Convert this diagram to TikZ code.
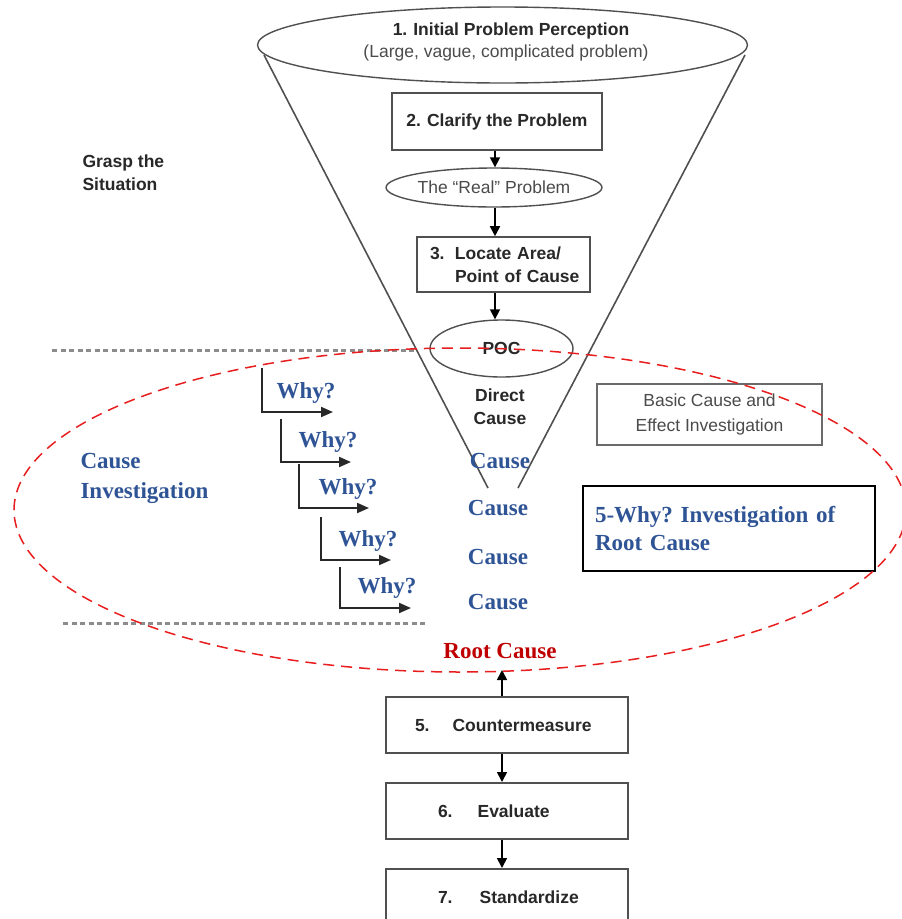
\documentclass[tikz,border=0pt]{standalone}
\usepackage{fontspec}
\setmainfont{Liberation Serif}
\newfontfamily\arialfont{Liberation Sans}
\usetikzlibrary{arrows.meta,shapes.geometric}
\definecolor{inkdark}{RGB}{40,40,40}
\definecolor{inkgray}{RGB}{75,75,75}
\definecolor{linegray}{RGB}{80,80,80}
\definecolor{dotgray}{RGB}{140,140,140}
\definecolor{whyblue}{RGB}{47,84,150}
\definecolor{rootred}{RGB}{192,0,0}
\definecolor{loopred}{RGB}{232,30,30}
\frenchspacing

\begin{document}
\begin{tikzpicture}[x=1pt,y=-1pt,
  sansb/.style={font=\arialfont\bfseries\fontsize{17.5}{23}\selectfont, text=inkdark},
  sansr/.style={font=\arialfont\fontsize{17.5}{23}\selectfont, text=inkgray},
  serifb/.style={font=\bfseries\fontsize{23}{30}\selectfont, text=whyblue},
  procbox/.style={draw=linegray, line width=1.6pt, rectangle, inner sep=0pt},
  ovalnode/.style={draw=linegray, line width=1.4pt, ellipse, inner sep=0pt},
  flow/.style={draw=black, line width=1.7pt, -{Triangle[length=10pt,width=10pt]}},
  stepline/.style={draw=inkdark, line width=2pt, -{Triangle[length=12pt,width=10pt]}},
  divider/.style={draw=dotgray, line width=3pt, dash pattern=on 5pt off 3.5pt},
]
\useasboundingbox (0,0) rectangle (902,919);
\clip (0,0) rectangle (902,919);
\fill[white] (0,0) rectangle (902,919);

% phase dividers
\coordinate (d1a) at (52,350);  \coordinate (d1b) at (417,350);
\coordinate (d2a) at (63,623);  \coordinate (d2b) at (425,623);
\draw[divider] (d1a) -- (d1b);
\draw[divider] (d2a) -- (d2b);

% funnel sides
\coordinate (fl1) at (264,55);  \coordinate (fl2) at (488,488);
\coordinate (fr1) at (745,55);  \coordinate (fr2) at (518,488);
\draw[linegray, line width=1.6pt] (fl1) -- (fl2);
\draw[linegray, line width=1.6pt] (fr1) -- (fr2);

% funnel mouth
\node[ovalnode, fill=white, minimum width=490pt, minimum height=76pt, align=center]
  (top) at (502.5,45) {};
\node[sansb] (toptitle) at (511,31) {1.\hspace{6pt}Initial Problem Perception};
\node[sansr] (topsub) at (506,53) {(Large, vague, complicated problem)};

% column of steps inside the funnel
\coordinate (axis) at (495,0);
\node[procbox, minimum width=210pt, minimum height=57pt, sansb]
  (b2) at (497,121.5) {2.\hspace{6pt}Clarify the Problem};
\node[ovalnode, minimum width=192pt, minimum height=39pt, sansr]
  (real) at (494,187.5) {The “Real” Problem};
\node[procbox, minimum width=173pt, minimum height=55pt, text width=173pt, align=left, sansb]
  (b3) at (503.5,264.5) {\hspace*{13pt}\makebox[25pt][l]{3.}Locate Area/\\\hspace*{38pt}Point of Cause};
\node[ovalnode, minimum width=143pt, minimum height=57pt, sansb]
  (poc) at (501.5,348.5) {POC};

\draw[flow] (b2.south -| axis) -- (real.north -| axis);
\draw[flow] (real.south -| axis) -- (b3.north -| axis);
\draw[flow] (b3.south -| axis) -- (poc.north -| axis);

\node[sansb, align=center] (direct) at (500,407) {Direct\\Cause};

% side labels
\node[sansb, align=left, anchor=west] (grasp) at (79,173) {Grasp the\\Situation};
\node[serifb, align=left, anchor=west] (causeinv) at (77,478) {Cause\\Investigation};

\node[procbox, draw=linegray!85, line width=2.2pt, minimum width=225pt, minimum height=61pt,
      sansr, align=center, font=\arialfont\fontsize{17.5}{25}\selectfont]
  (basic) at (709.5,414.5) {Basic Cause and\\Effect Investigation};

\node[draw=black, line width=1.4pt, rectangle, minimum width=292pt, minimum height=85pt,
      text width=268pt, inner xsep=12pt, align=left, serifb,
      font=\bfseries\fontsize{23}{28}\selectfont]
  (fivewhy) at (729,528.5) {5-Why? Investigation of\\Root Cause};

% the why ladder
\coordinate (w1a) at (262,368); \coordinate (w1b) at (333,412);
\coordinate (w2a) at (281,419); \coordinate (w2b) at (351,462);
\coordinate (w3a) at (299,464); \coordinate (w3b) at (369,508);
\coordinate (w4a) at (321,517); \coordinate (w4b) at (391,560);
\coordinate (w5a) at (340,567); \coordinate (w5b) at (411,608);
\draw[stepline] (w1a) |- (w1b);
\draw[stepline] (w2a) |- (w2b);
\draw[stepline] (w3a) |- (w3b);
\draw[stepline] (w4a) |- (w4b);
\draw[stepline] (w5a) |- (w5b);

\node[serifb] (why1) at (306,393) {Why?};
\node[serifb] (why2) at (328,442) {Why?};
\node[serifb] (why3) at (348,489) {Why?};
\node[serifb] (why4) at (368,541) {Why?};
\node[serifb] (why5) at (387,588) {Why?};

\node[serifb] (c1) at (500,461) {Cause};
\node[serifb] (c2) at (498,508) {Cause};
\node[serifb] (c3) at (498,557) {Cause};
\node[serifb] (c4) at (498,602) {Cause};

% root cause and follow-up steps
\node[font=\bfseries\fontsize{23}{28}\selectfont, text=rootred] (root) at (500,651) {Root Cause};
\coordinate (roottip) at (502,670);

\node[procbox, line width=2pt, minimum width=242pt, minimum height=56pt, sansb]
  (b5) at (507,725) {\makebox[242pt][l]{\hspace{29pt}5.\hspace{23pt}Countermeasure}};
\node[procbox, line width=2pt, minimum width=242pt, minimum height=56pt, sansb]
  (b6) at (507,811) {\makebox[242pt][l]{\hspace{52pt}6.\hspace{25pt}Evaluate}};
\node[procbox, line width=2pt, minimum width=242pt, minimum height=56pt, sansb]
  (b7) at (507,897) {\makebox[242pt][l]{\hspace{52pt}7.\hspace{27pt}Standardize}};

\draw[flow] (b5.north -| roottip) -- (roottip);
\draw[flow] (b5.south -| roottip) -- (b6.north -| roottip);
\draw[flow] (b6.south -| roottip) -- (b7.north -| roottip);

% investigation scope
\draw[loopred, line width=1.5pt, dash pattern=on 11pt off 7pt]
  (460,510) ellipse [x radius=446, y radius=162];
\end{tikzpicture}
\end{document}
